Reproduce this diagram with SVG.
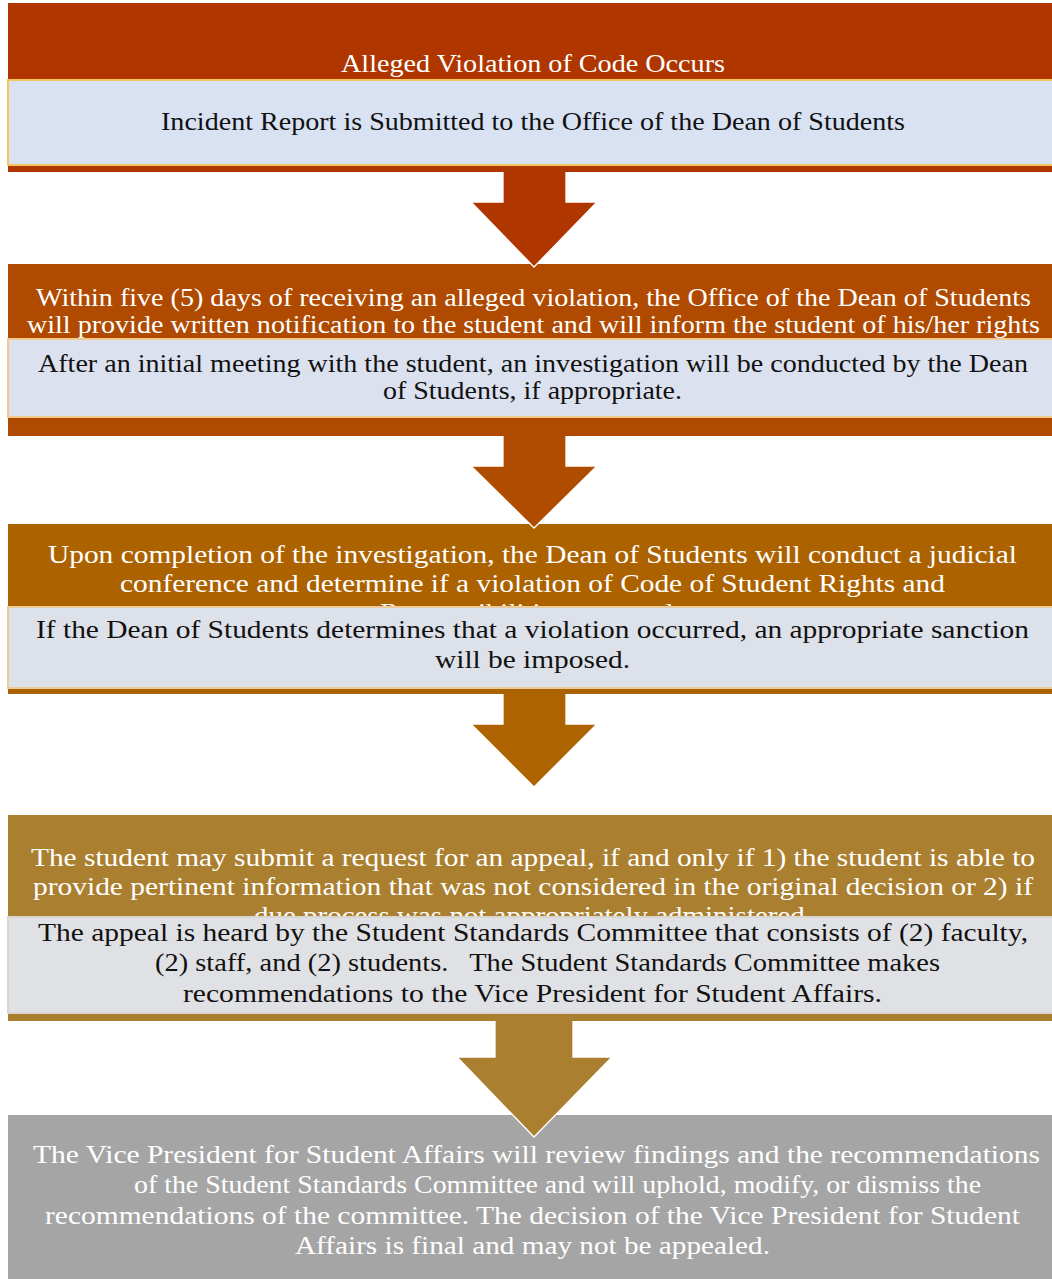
<svg xmlns="http://www.w3.org/2000/svg" width="1052" height="1279" viewBox="0 0 1052 1279">
<style>
  text { font-family: "Liberation Serif", "Times New Roman", serif; font-size: 26px; }
  .w { fill: #FFFFFF; }
  .k { fill: #111111; }
  .lb { stroke-width: 2; }
  .arr { stroke: #FFFFFF; stroke-width: 1.3; }
</style>
<rect x="0" y="0" width="1052" height="1279" fill="#FFFFFF"/>

<g id="node1">
  <rect x="8" y="3" width="1050" height="169" fill="#B03600"/>
  <text class="w" x="341" y="72" textLength="384" lengthAdjust="spacingAndGlyphs">Alleged Violation of Code Occurs</text>
  <rect class="lb" x="8" y="80" width="1050" height="85" fill="#D9E2F3" stroke="#F6C55F"/>
  <text class="k" x="161" y="130" textLength="744" lengthAdjust="spacingAndGlyphs">Incident Report is Submitted to the Office of the Dean of Students</text>
</g>

<g id="node2">
  <rect x="8" y="264" width="1050" height="172" fill="#AF4A00"/>
  <text class="w" x="36" y="306" textLength="995" lengthAdjust="spacingAndGlyphs">Within five (5) days of receiving an alleged violation, the Office of the Dean of Students</text>
  <text class="w" x="27" y="333" textLength="1013" lengthAdjust="spacingAndGlyphs">will provide written notification to the student and will inform the student of his/her rights</text>
  <rect class="lb" x="8" y="339" width="1050" height="78" fill="#DBE1EF" stroke="#F2C88C"/>
  <text class="k" x="38" y="372" textLength="990" lengthAdjust="spacingAndGlyphs">After an initial meeting with the student, an investigation will be conducted by the Dean</text>
  <text class="k" x="383" y="399" textLength="299" lengthAdjust="spacingAndGlyphs">of Students, if appropriate.</text>
</g>

<g id="node3">
  <rect x="8" y="524" width="1050" height="170" fill="#AD6200"/>
  <text class="w" x="48" y="563" textLength="969" lengthAdjust="spacingAndGlyphs">Upon completion of the investigation, the Dean of Students will conduct a judicial</text>
  <text class="w" x="120" y="592" textLength="825" lengthAdjust="spacingAndGlyphs">conference and determine if a violation of Code of Student Rights and</text>
  <text class="w" x="380" y="621" textLength="300" lengthAdjust="spacingAndGlyphs">Responsibilities occurred.</text>
  <rect class="lb" x="8" y="607" width="1050" height="81" fill="#DDE1EA" stroke="#EBCB9B"/>
  <text class="k" x="36" y="638" textLength="993" lengthAdjust="spacingAndGlyphs">If the Dean of Students determines that a violation occurred, an appropriate sanction</text>
  <text class="k" x="435" y="668" textLength="195" lengthAdjust="spacingAndGlyphs">will be imposed.</text>
</g>

<g id="node4">
  <rect x="8" y="815" width="1050" height="206" fill="#AB7F30"/>
  <text class="w" x="31" y="866" textLength="1004" lengthAdjust="spacingAndGlyphs">The student may submit a request for an appeal, if and only if 1) the student is able to</text>
  <text class="w" x="33" y="895" textLength="1000" lengthAdjust="spacingAndGlyphs">provide pertinent information that was not considered in the original decision or 2) if</text>
  <text class="w" x="254" y="924" textLength="558" lengthAdjust="spacingAndGlyphs">due process was not appropriately administered.</text>
  <rect class="lb" x="8" y="917" width="1050" height="96" fill="#E0E1E4" stroke="#D9D6CF"/>
  <text class="k" x="38" y="941" textLength="990" lengthAdjust="spacingAndGlyphs">The appeal is heard by the Student Standards Committee that consists of (2) faculty,</text>
  <text class="k" x="155" y="971" textLength="785" lengthAdjust="spacingAndGlyphs">(2) staff, and (2) students.&#160;&#160; The Student Standards Committee makes</text>
  <text class="k" x="183" y="1002" textLength="699" lengthAdjust="spacingAndGlyphs">recommendations to the Vice President for Student Affairs.</text>
</g>

<g id="node5">
  <rect x="8" y="1115" width="1050" height="170" fill="#A5A5A5"/>
  <text class="w" x="33" y="1163" textLength="1007" lengthAdjust="spacingAndGlyphs">The Vice President for Student Affairs will review findings and the recommendations</text>
  <text class="w" x="134" y="1193" textLength="847" lengthAdjust="spacingAndGlyphs">of the Student Standards Committee and will uphold, modify, or dismiss the</text>
  <text class="w" x="45" y="1224" textLength="975" lengthAdjust="spacingAndGlyphs">recommendations of the committee. The decision of the Vice President for Student</text>
  <text class="w" x="295" y="1254" textLength="475" lengthAdjust="spacingAndGlyphs">Affairs is final and may not be appealed.</text>
</g>

<g id="connectors">
  <path class="arr" fill="#B03600" d="M503,172 L503,202 L471,202 L534,267 L597,202 L566,202 L566,172"/>
  <path class="arr" fill="#AF4C00" d="M503,436 L503,466 L471,466 L534,528 L597,466 L566,466 L566,436"/>
  <path class="arr" fill="#AD6400" d="M503,694 L503,724 L471,724 L534,787 L597,724 L566,724 L566,694"/>
  <path class="arr" fill="#AB7F30" d="M495,1021 L495,1057 L457,1057 L534,1137 L612,1057 L573,1057 L573,1021"/>
</g>
</svg>
